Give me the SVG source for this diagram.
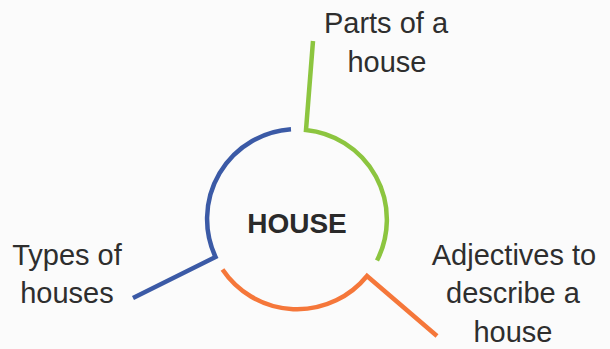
<svg xmlns="http://www.w3.org/2000/svg" width="610" height="349" viewBox="0 0 610 349">
  <style>
    .lbl { font-family: "Liberation Sans", Arial, sans-serif; font-size: 29px; fill: #2e2e2e; text-anchor: middle; }
    .hub { font-family: "Liberation Sans", Arial, sans-serif; font-size: 28px; font-weight: bold; fill: #2a2a2a; text-anchor: middle; }
    .br { fill: none; stroke-width: 4.5; stroke-linecap: butt; stroke-linejoin: miter; }
    .blue { stroke: #3b5aa6; }
    .green { stroke: #8cc53f; }
    .orange { stroke: #f5773a; }
  </style>
  <rect width="610" height="349" fill="#fbfbfb"/>
  <g id="connectors">
    <path class="br green" d="M313,41 L306,130 A90,90 0 0 1 377,260.5"/>
    <path class="br blue" d="M291,129.2 A90,90 0 0 0 215.5,257 L133,298"/>
    <path class="br orange" d="M222.5,269.5 A90,90 0 0 0 367,276 L437,336"/>
  </g>
  <g id="node-house">
    <text class="hub" x="297" y="233">HOUSE</text>
  </g>
  <g id="node-parts">
    <text class="lbl" x="386" y="33">Parts of a</text>
    <text class="lbl" x="387" y="72">house</text>
  </g>
  <g id="node-types">
    <text class="lbl" x="67" y="265">Types of</text>
    <text class="lbl" x="67" y="303">houses</text>
  </g>
  <g id="node-adjectives">
    <text class="lbl" x="514" y="265">Adjectives to</text>
    <text class="lbl" x="513" y="303">describe a</text>
    <text class="lbl" x="513" y="342">house</text>
  </g>
</svg>
